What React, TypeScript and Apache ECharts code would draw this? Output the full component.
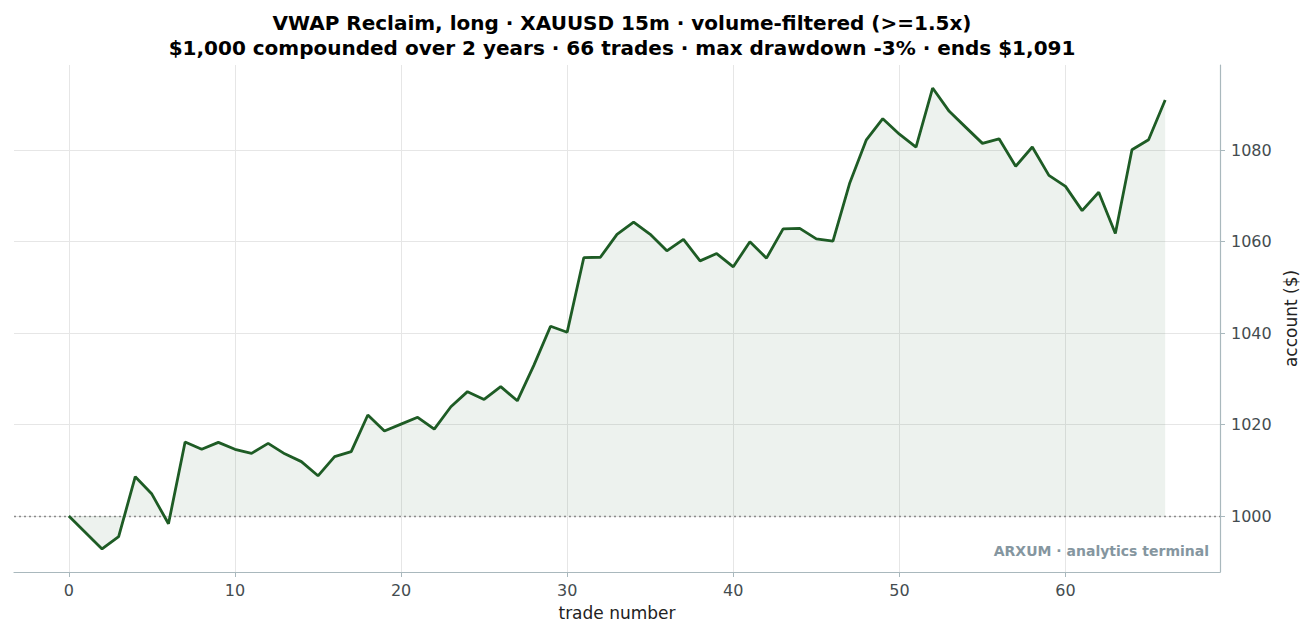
import React, { useEffect, useRef } from "react";
import * as echarts from "echarts";

const titleLine1 = "VWAP Reclaim, long · XAUUSD 15m · volume-filtered (>=1.5x)";
const titleLine2 = "$1,000 compounded over 2 years · 66 trades · max drawdown -3% · ends $1,091";

const equity: number[] = [
  1000.0, 996.4, 992.8, 995.5, 1008.6, 1004.8, 998.3, 1016.2, 1014.6, 1016.1,
  1014.6, 1013.7, 1015.9, 1013.6, 1011.9, 1008.8, 1013.0, 1014.1, 1022.1, 1018.6,
  1020.1, 1021.6, 1019.0, 1023.9, 1027.2, 1025.5, 1028.3, 1025.2, 1033.0, 1041.5,
  1040.2, 1056.5, 1056.6, 1061.6, 1064.3, 1061.6, 1058.0, 1060.5, 1055.8, 1057.4,
  1054.5, 1060.0, 1056.4, 1062.8, 1062.9, 1060.6, 1060.1, 1072.7, 1082.2, 1086.9,
  1083.5, 1080.7, 1093.6, 1088.5, 1085.0, 1081.5, 1082.5, 1076.5, 1080.7, 1074.5,
  1072.1, 1066.8, 1070.8, 1061.8, 1080.1, 1082.3, 1091.0,
];

const xTicks: number[] = [0, 10, 20, 30, 40, 50, 60];
const yTicks: number[] = [1000, 1020, 1040, 1060, 1080];
const baseline = 1000;
const watermark = "ARXUM · analytics terminal";
const xName = "trade number";
const yName = "account ($)";

const FONT = "DejaVu Sans";

export default function App() {
  const ref = useRef<HTMLDivElement>(null);
  useEffect(() => {
    document.body.style.margin = "0";
    if (!ref.current) return;
    const chart = echarts.init(ref.current, null, { renderer: "svg" });
    const n = equity.length - 1;
    const xPad = n * 0.05;
    const yMin = Math.min(...equity);
    const yMax = Math.max(...equity);
    const yPad = (yMax - yMin) * 0.05;
    const data = equity.map((v, i) => [i, v]);
    chart.setOption({
      animation: false,
      backgroundColor: "#ffffff",
      textStyle: { fontFamily: FONT },
      title: {
        text: titleLine1 + "\n" + titleLine2,
        left: 617,
        textAlign: "center",
        top: 5,
        textStyle: {
          fontFamily: FONT,
          fontSize: 20,
          fontWeight: "bold",
          color: "#000000",
          lineHeight: 25,
        },
      },
      grid: { left: 14, right: 92, top: 65, bottom: 66, containLabel: false },
      xAxis: {
        type: "value",
        min: -xPad,
        max: n + xPad,
        name: xName,
        nameLocation: "middle",
        nameGap: 32,
        nameTextStyle: { fontFamily: FONT, fontSize: 17, color: "#222222" },
        axisLine: { show: true, onZero: false, lineStyle: { color: "#a9b8bd", width: 1.2 } },
        axisTick: {
          show: true,
          length: 5,
          customValues: xTicks,
          lineStyle: { color: "#a9b8bd" },
        },
        axisLabel: {
          customValues: xTicks,
          margin: 10,
          fontFamily: FONT,
          fontSize: 16,
          color: "#444c50",
          formatter: (v: number) => String(v),
        },
        splitLine: { show: true, lineStyle: { color: "#e6e6e6", width: 1 } },
      },
      yAxis: {
        type: "value",
        position: "right",
        min: yMin - yPad,
        max: yMax + yPad,
        name: yName,
        nameLocation: "middle",
        nameRotate: 90,
        nameGap: 60,
        nameTextStyle: { fontFamily: FONT, fontSize: 17, color: "#222222" },
        axisLine: { show: true, onZero: false, lineStyle: { color: "#a9b8bd", width: 1.2 } },
        axisTick: {
          show: true,
          length: 5,
          customValues: yTicks,
          lineStyle: { color: "#a9b8bd" },
        },
        axisLabel: {
          customValues: yTicks,
          margin: 11,
          fontFamily: FONT,
          fontSize: 16,
          color: "#444c50",
          formatter: (v: number) => String(v),
        },
        splitLine: { show: true, lineStyle: { color: "#e6e6e6", width: 1 } },
      },
      graphic: [
        {
          type: "text",
          right: 103,
          top: 544,
          style: {
            text: watermark,
            font: `bold 14px "${FONT}"`,
            fill: "#8596a0",
          },
        },
      ],
      series: [
        {
          type: "line",
          data,
          showSymbol: false,
          symbol: "none",
          lineStyle: { color: "#1e5c25", width: 2.8 },
          itemStyle: { color: "#1e5c25" },
          areaStyle: { color: "rgba(30, 92, 37, 0.08)", opacity: 1, origin: baseline },
          z: 3,
          markLine: {
            silent: true,
            symbol: "none",
            label: { show: false },
            lineStyle: { color: "#8a8a8a", type: [2, 3], width: 1.3 },
            data: [{ yAxis: baseline }],
            z: 2,
          },
        },
      ],
    });
    return () => chart.dispose();
  }, []);
  return <div ref={ref} style={{ width: 1312, height: 638 }} />;
}
